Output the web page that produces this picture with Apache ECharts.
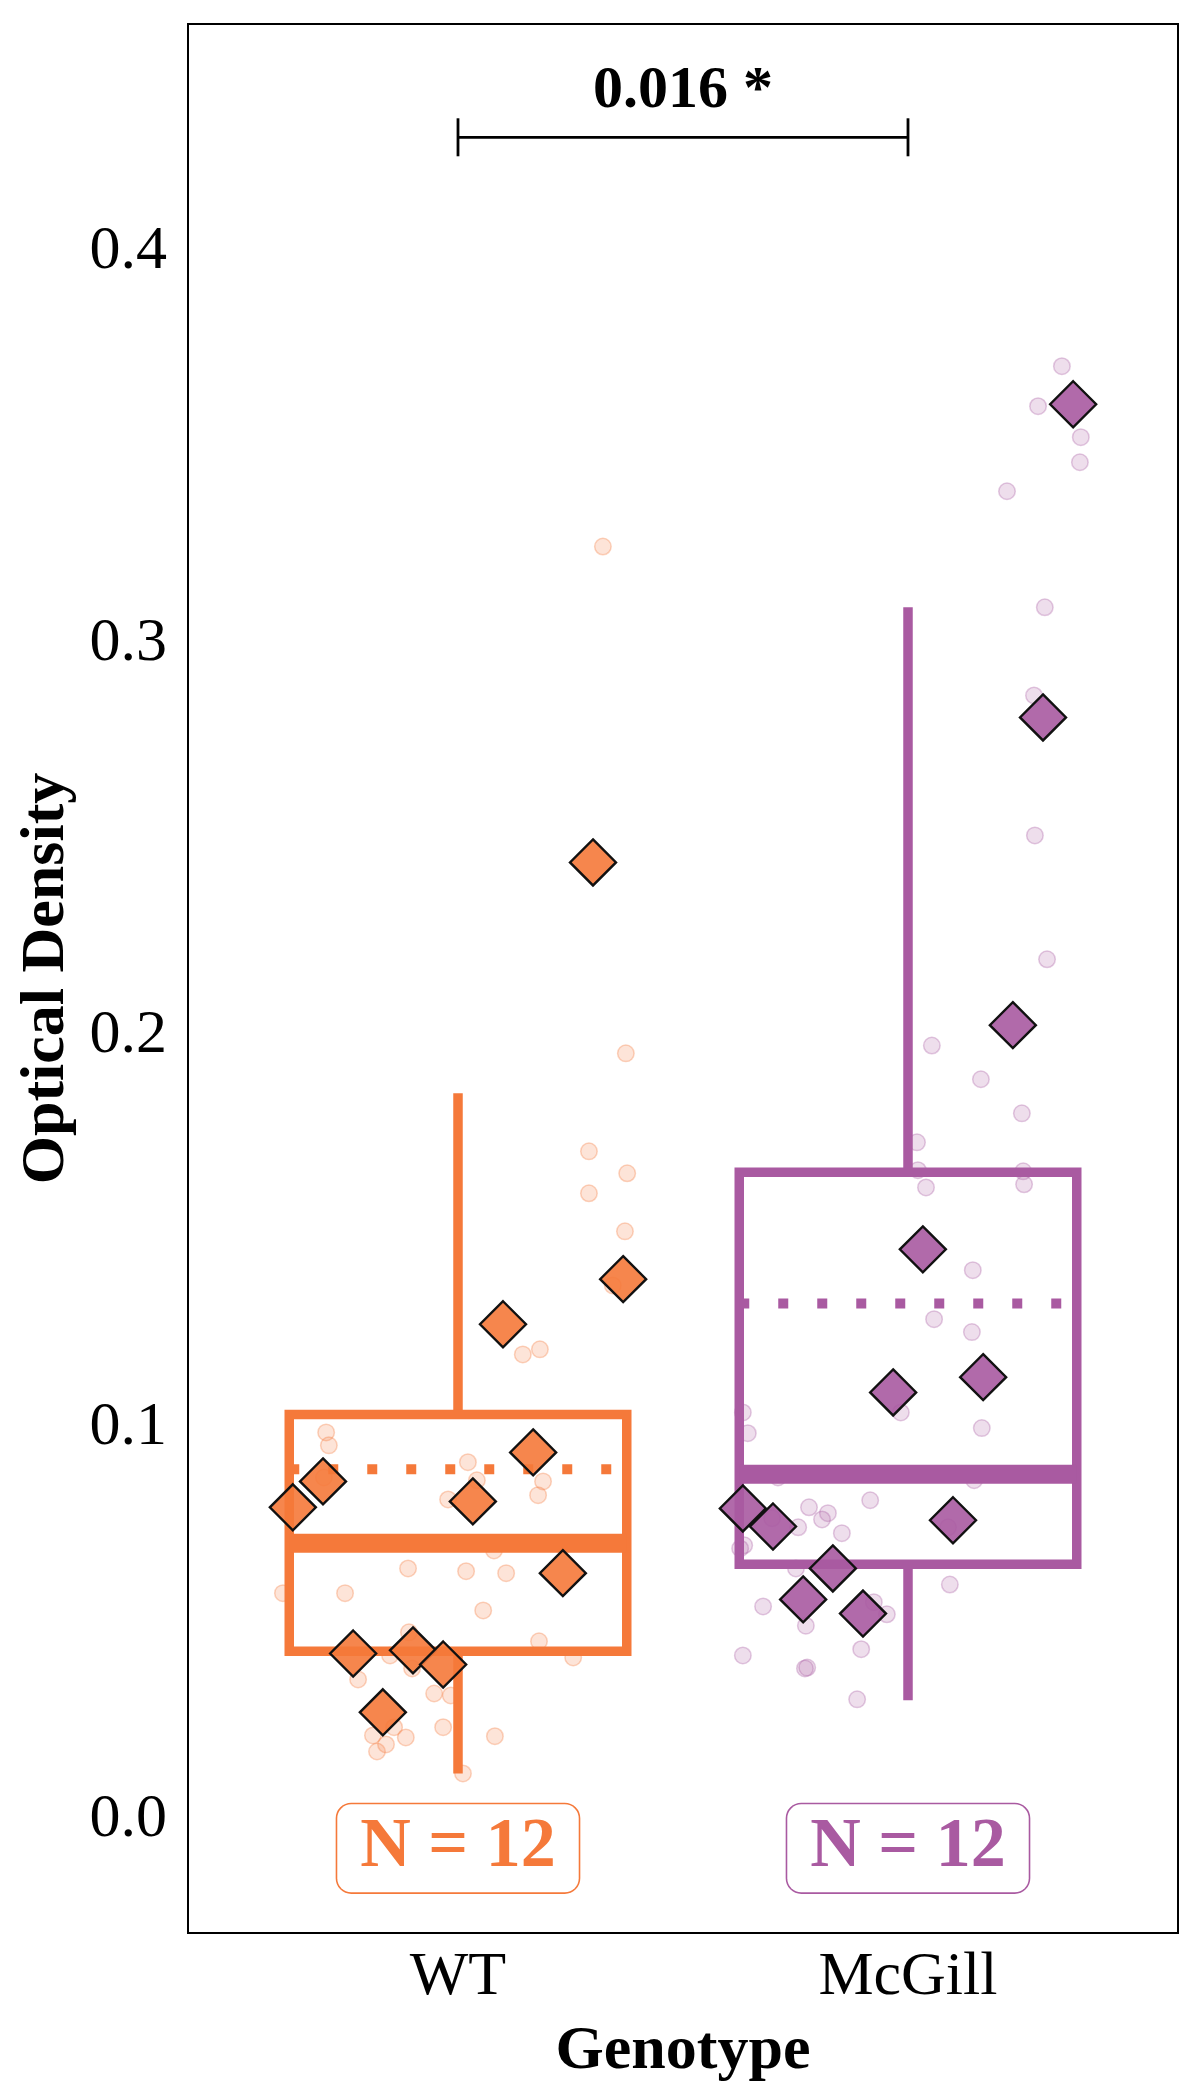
<!DOCTYPE html>
<html>
<head>
<meta charset="utf-8">
<script src="https://cdn.jsdelivr.net/npm/echarts@6.0.0/dist/echarts.min.js"></script>
<style>
  html, body { margin: 0; padding: 0; background: #fff; }
  #chart { width: 1200px; height: 2100px; }
</style>
</head>
<body>
<div id="chart"></div>
<script>
// groups
const genotypes = ['WT', 'McGill'];
const groupColors = ['#F5793A', '#A95AA1'];
const groupCounts = [12, 12];
const yTicks = [0, 0.1, 0.2, 0.3, 0.4];

// per-animal means (diamonds): horizontal offset from group centre + value
const animalOffsets = [-0.367, -0.3, -0.233, -0.167, -0.1, -0.033, 0.033, 0.1, 0.167, 0.233, 0.3, 0.367];
const wtAnimalMeans = [0.0796, 0.0862, 0.0423, 0.0273, 0.0431, 0.0395, 0.0811, 0.1263, 0.0936, 0.0628, 0.2441, 0.1378];
const mcAnimalMeans = [0.0793, 0.0747, 0.0561, 0.0640, 0.0525, 0.1089, 0.1454, 0.0763, 0.1128, 0.2026, 0.2811, 0.3610];

// individual measurements (faint dots)
const wtPointX = [0.322, 0.373, 0.291, 0.376, 0.291, 0.371, 0.344, 0.144, 0.182, -0.293, -0.287, 0.022, 0.042, 0.189,
  0.178, -0.022, -0.298, 0.080, -0.111, 0.018, 0.107, -0.389, -0.251, 0.056, -0.109, 0.180, 0.256, -0.151, -0.222,
  -0.102, -0.053, -0.016, -0.033, 0.082, -0.189, -0.160, -0.116, -0.180, -0.142, 0.011];
const wtPointY = [0.3247, 0.1954, 0.1704, 0.1648, 0.1597, 0.1500, 0.1362, 0.1186, 0.1199, 0.0987, 0.0954, 0.0911, 0.0865,
  0.0862, 0.0827, 0.0816, 0.0872, 0.0686, 0.0640, 0.0633, 0.0628, 0.0577, 0.0577, 0.0533, 0.0477, 0.0454, 0.0413,
  0.0418, 0.0357, 0.0385, 0.0321, 0.0316, 0.0235, 0.0212, 0.0214, 0.0191, 0.0209, 0.0173, 0.0235, 0.0117];
const mcPointX = [1.342, 1.289, 1.384, 1.382, 1.220, 1.304, 1.280, 1.282, 1.309, 1.053, 1.162, 1.253, 1.020, 1.022,
  1.040, 1.256, 1.258, 1.144, 1.058, 1.142, 0.633, 0.644, 0.984, 1.164, 0.711, 1.147, 0.916, 0.780, 0.822, 0.809,
  0.756, 0.853, 0.636, 0.627, 1.089, 0.698, 0.751, 1.093, 0.678, 0.773, 0.924, 0.953, 0.633, 0.776, 0.771, 0.896, 0.887];
const mcPointY = [0.3707, 0.3605, 0.3526, 0.3462, 0.3388, 0.3092, 0.2867, 0.2510, 0.2194, 0.1974, 0.1888, 0.1801,
  0.1727, 0.1656, 0.1612, 0.1653, 0.1620, 0.1401, 0.1276, 0.1243, 0.1038, 0.0985, 0.1038, 0.0998, 0.0872, 0.0865,
  0.0814, 0.0796, 0.0781, 0.0765, 0.0745, 0.0730, 0.0699, 0.0691, 0.0745, 0.0768, 0.0640, 0.0599, 0.0543, 0.0494,
  0.0554, 0.0523, 0.0418, 0.0387, 0.0385, 0.0434, 0.0306];

// box stats: [low whisker, q1, median, q3, high whisker, mean]
const wtBox = [0.0117, 0.0429, 0.0704, 0.1033, 0.1852, 0.0893];
const mcBox = [0.0304, 0.0651, 0.0880, 0.1651, 0.3092, 0.1316];

// significance bracket
const pValueText = '0.016 *';
const bracketY = 0.4291;
const nLabelY = -0.0074;

const FONT = '"Liberation Serif", "Times New Roman", serif';
const boxHalf = 0.375;

function fade(hex, a) {
  const n = parseInt(hex.slice(1), 16);
  return 'rgba(' + (n >> 16) + ',' + ((n >> 8) & 255) + ',' + (n & 255) + ',' + a + ')';
}

function zip(xs, ys) {
  return xs.map((x, i) => [x, ys[i]]);
}

function renderBox(params, api) {
  const x = api.value(0);
  const lo = api.value(1), q1 = api.value(2), med = api.value(3);
  const q3 = api.value(4), hi = api.value(5), mean = api.value(6);
  const color = groupColors[params.dataIndex];
  const tl = api.coord([x - boxHalf, q3]);
  const br = api.coord([x + boxHalf, q1]);
  const top = api.coord([x, hi]);
  const bot = api.coord([x, lo]);
  const medL = api.coord([x - boxHalf, med]);
  const medR = api.coord([x + boxHalf, med]);
  const meanL = api.coord([x - boxHalf, mean]);
  const meanR = api.coord([x + boxHalf, mean]);
  const line = (a, b, w, extra) => ({
    type: 'line',
    shape: { x1: a[0], y1: a[1], x2: b[0], y2: b[1] },
    style: Object.assign({ stroke: color, lineWidth: w, lineCap: 'butt' }, extra || {})
  });
  return {
    type: 'group',
    children: [
      line(top, [top[0], tl[1]], 9.5),
      line([bot[0], br[1]], bot, 9.5),
      {
        type: 'rect',
        shape: { x: tl[0], y: tl[1], width: br[0] - tl[0], height: br[1] - tl[1] },
        style: { fill: null, stroke: color, lineWidth: 9.5, lineJoin: 'miter' }
      },
      line(medL, medR, 19),
      line(meanL, meanR, 10, { lineDash: [10, 29] })
    ]
  };
}

function renderBracket(params, api) {
  const a = api.coord([api.value(0), api.value(2)]);
  const b = api.coord([api.value(1), api.value(2)]);
  const h = 19;
  const seg = (x1, y1, x2, y2) => ({
    type: 'line',
    shape: { x1, y1, x2, y2 },
    style: { stroke: '#000', lineWidth: 2.8 }
  });
  return {
    type: 'group',
    children: [
      seg(a[0], a[1], b[0], b[1]),
      seg(a[0], a[1] - h, a[0], a[1] + h),
      seg(b[0], b[1] - h, b[0], b[1] + h),
      {
        type: 'text',
        style: {
          text: pValueText,
          x: (a[0] + b[0]) / 2,
          y: a[1] - 46,
          align: 'center',
          verticalAlign: 'middle',
          fill: '#000',
          font: 'bold 60px ' + FONT
        }
      }
    ]
  };
}

function renderCount(params, api) {
  const p = api.coord([api.value(0), api.value(1)]);
  const color = groupColors[params.dataIndex];
  return {
    type: 'text',
    style: {
      text: 'N = ' + groupCounts[params.dataIndex],
      x: p[0],
      y: p[1],
      align: 'center',
      verticalAlign: 'middle',
      fill: color,
      font: 'bold 70px ' + FONT,
      backgroundColor: '#fff',
      borderColor: color,
      borderWidth: 1.6,
      borderRadius: 14,
      padding: [10, 23, 8, 23]
    }
  };
}

const chart = echarts.init(document.getElementById('chart'));

const option = {
  animation: false,
  backgroundColor: '#fff',
  grid: {
    left: 188, right: 22, top: 24, bottom: 167,
    show: true, borderColor: '#000', borderWidth: 2,
    outerBoundsMode: 'none'
  },
  xAxis: {
    type: 'value',
    min: -0.6,
    max: 1.6,
    splitLine: { show: false },
    axisTick: { show: false },
    axisLine: { show: true, onZero: false, lineStyle: { color: '#000', width: 2 } },
    axisLabel: {
      customValues: [0, 1],
      formatter: v => genotypes[Math.round(v)],
      fontFamily: FONT, fontSize: 62, color: '#000', margin: 14
    },
    name: 'Genotype',
    nameLocation: 'middle',
    nameGap: 88,
    nameTextStyle: { fontFamily: FONT, fontSize: 62, fontWeight: 'bold', color: '#000' }
  },
  yAxis: {
    type: 'value',
    min: -0.029,
    max: 0.458,
    splitLine: { show: false },
    axisTick: { show: false },
    axisLine: { show: true, onZero: false, lineStyle: { color: '#000', width: 2 } },
    axisLabel: {
      customValues: yTicks,
      formatter: v => v.toFixed(1),
      fontFamily: FONT, fontSize: 62, color: '#000', margin: 21
    },
    name: 'Optical Density',
    nameLocation: 'middle',
    nameRotate: 90,
    nameGap: 110,
    nameTextStyle: { fontFamily: FONT, fontSize: 62, fontWeight: 'bold', color: '#000' }
  },
  series: [
    {
      type: 'scatter',
      z: 1,
      symbol: 'circle',
      symbolSize: 16.5,
      data: zip(wtPointX, wtPointY),
      itemStyle: { color: fade(groupColors[0], 0.2), borderColor: fade(groupColors[0], 0.32), borderWidth: 1.5, opacity: 1 }
    },
    {
      type: 'scatter',
      z: 1,
      symbol: 'circle',
      symbolSize: 16.5,
      data: zip(mcPointX, mcPointY),
      itemStyle: { color: fade(groupColors[1], 0.2), borderColor: fade(groupColors[1], 0.32), borderWidth: 1.5, opacity: 1 }
    },
    {
      type: 'custom',
      z: 2,
      renderItem: renderBox,
      encode: { x: 0, y: [1, 2, 3, 4, 5, 6] },
      data: [[0].concat(wtBox), [1].concat(mcBox)]
    },
    {
      type: 'scatter',
      z: 3,
      symbol: 'diamond',
      symbolSize: 46,
      data: zip(animalOffsets.map(o => 0 + o), wtAnimalMeans),
      itemStyle: { color: fade(groupColors[0], 0.9), borderColor: '#111', borderWidth: 2.4, opacity: 1 }
    },
    {
      type: 'scatter',
      z: 3,
      symbol: 'diamond',
      symbolSize: 46,
      data: zip(animalOffsets.map(o => 1 + o), mcAnimalMeans),
      itemStyle: { color: fade(groupColors[1], 0.9), borderColor: '#111', borderWidth: 2.4, opacity: 1 }
    },
    {
      type: 'custom',
      z: 4,
      renderItem: renderCount,
      encode: { x: 0, y: 1 },
      data: [[0, nLabelY], [1, nLabelY]]
    },
    {
      type: 'custom',
      z: 4,
      renderItem: renderBracket,
      encode: { x: [0, 1], y: 2 },
      data: [[0, 1, bracketY]]
    }
  ]
};

chart.setOption(option);
window.addEventListener('resize', () => chart.resize());
</script>
</body>
</html>
